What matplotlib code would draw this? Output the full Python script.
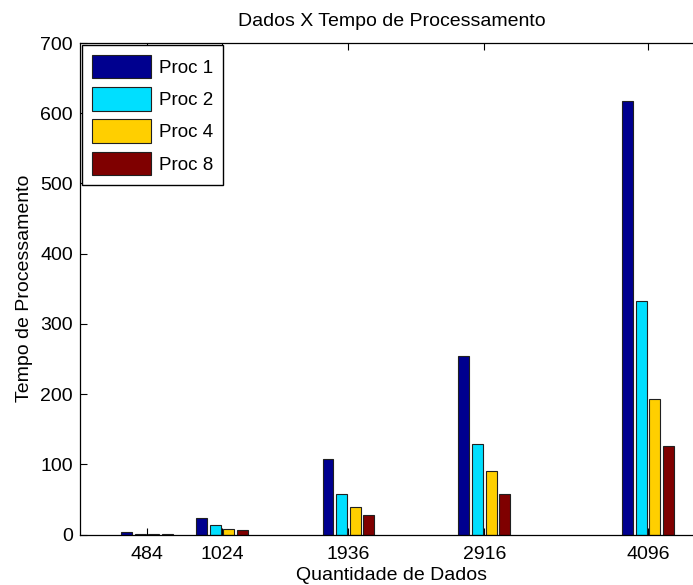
import matplotlib
matplotlib.use("Agg")
import matplotlib.pyplot as plt
import numpy as np

plt.rcParams['font.family'] = ['Liberation Sans', 'DejaVu Sans']

dados = [484, 1024, 1936, 2916, 4096]
series_labels = ['Proc 1', 'Proc 2', 'Proc 4', 'Proc 8']
proc1 = [3, 23, 107, 254, 618]
proc2 = [1.2, 13, 57, 129, 332]
proc4 = [0.8, 8.5, 39, 90, 193]
proc8 = [0.6, 6.5, 28, 57, 126]
colors = ['#00008F', '#00DFFF', '#FFCF00', '#7F0000']

FS = 14
LFS = 13.5

fig = plt.figure(figsize=(6.93, 5.85), dpi=100)
ax = fig.add_axes([80/693, (585-534.5)/585, 624/693, 491.5/585])

x = np.array(dados, dtype=float)
n = 4
spacing = np.min(np.diff(x))
group_w = min(0.8, n/(n+1.5)) * spacing
slot = group_w / n
bar_w = slot * 0.8

for i, (vals, lab, c) in enumerate(zip([proc1, proc2, proc4, proc8], series_labels, colors)):
    off = (i - (n-1)/2) * slot
    ax.bar(x + off, vals, width=bar_w, color=c, edgecolor='#202020', linewidth=0.8, label=lab)

ax.set_xlim(0, 4500)
ax.set_ylim(0, 700)
ax.set_xticks(dados)
ax.set_xticklabels([str(d) for d in dados])
ax.set_yticks(range(0, 701, 100))
ax.tick_params(direction='in', length=5, width=0.8, top=True, right=True, labelsize=FS, pad=5)
ax.tick_params(axis='x', pad=8)
for s in ax.spines.values():
    s.set_linewidth(0.9)

ax.set_title('Dados X Tempo de Processamento', fontsize=FS, pad=12)
ax.set_xlabel('Quantidade de Dados', fontsize=FS, labelpad=3)
ax.set_ylabel('Tempo de Processamento', fontsize=FS, labelpad=5)

px = LFS * 100 / 72
leg = ax.legend(loc='upper left', fontsize=LFS, handlelength=59/px, handleheight=1.55,
                labelspacing=0.47, handletextpad=8/px, borderpad=10/px, borderaxespad=0.1,
                fancybox=False, framealpha=1, edgecolor='black')
leg.get_frame().set_linewidth(1.0)

fig.savefig('out.png', dpi=100)
